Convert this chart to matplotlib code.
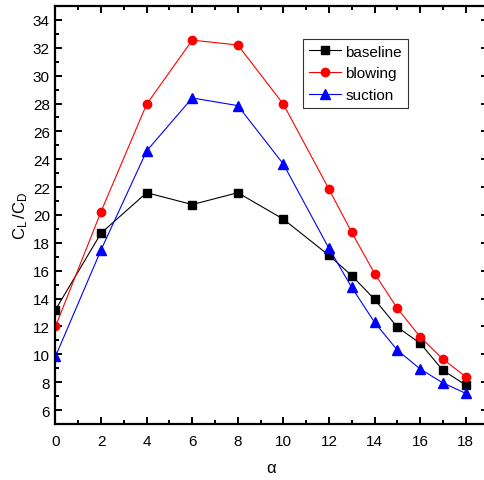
import matplotlib
matplotlib.use('Agg')
import matplotlib.pyplot as plt
from matplotlib.ticker import MultipleLocator

plt.rcParams['font.family'] = ['Liberation Sans', 'DejaVu Sans']
plt.rcParams['mathtext.fontset'] = 'custom'
plt.rcParams['mathtext.rm'] = 'Liberation Sans'
plt.rcParams['mathtext.it'] = 'Liberation Sans'

# angle of attack
alpha = [0, 2, 4, 6, 8, 10, 12, 13, 14, 15, 16, 17, 18]
baseline = [13.2, 18.7, 21.6, 20.75, 21.6, 19.7, 17.1, 15.65, 13.95, 11.95, 10.8, 8.85, 7.8]
blowing = [12.0, 20.25, 27.95, 32.55, 32.2, 27.95, 21.85, 18.75, 15.8, 13.3, 11.25, 9.65, 8.4]
suction = [9.85, 17.5, 24.6, 28.4, 27.85, 23.65, 17.6, 14.8, 12.3, 10.3, 8.95, 7.95, 7.2]

fig = plt.figure(figsize=(4.85, 4.81), dpi=100)
fig.patch.set_facecolor('white')
ax = fig.add_axes([55.5/485, 56/481, 433/485, 418/481])

ax.plot(alpha, baseline, color='black', lw=0.8, marker='s', ms=5.5, label='baseline')
ax.plot(alpha, blowing, color='red', lw=0.8, marker='o', ms=6, label='blowing')
ax.plot(alpha, suction, color='blue', lw=0.8, marker='^', ms=6.5, label='suction')

ax.set_xlim(0, 19)
ax.set_ylim(5, 35)
ax.xaxis.set_minor_locator(MultipleLocator(1))
ax.yaxis.set_minor_locator(MultipleLocator(1))
ax.set_xticks(range(0, 19, 2))
ax.set_yticks(range(6, 35, 2))

for s in ax.spines.values():
    s.set_linewidth(1.6)
ax.tick_params(which='both', direction='in', top=True, right=True, width=1.4)
ax.tick_params(which='major', length=5, labelsize=11)
ax.tick_params(which='minor', length=3)
ax.tick_params(axis='x', pad=7)
ax.tick_params(axis='y', pad=4)

ax.set_xlabel(r'$\alpha$', fontsize=12, labelpad=9)
ax.set_ylabel(r'$\mathrm{C_L\,/C_D}$', fontsize=12, labelpad=2)

leg = ax.legend(loc='upper left', bbox_to_anchor=(0.571, 0.922), fontsize=11,
                frameon=True, fancybox=False, edgecolor='black', handlelength=2.1,
                handletextpad=0.3, borderpad=0.4, labelspacing=0.5, borderaxespad=0)
leg.get_frame().set_linewidth(0.8)

fig.savefig('out.png', dpi=100, facecolor='white')
